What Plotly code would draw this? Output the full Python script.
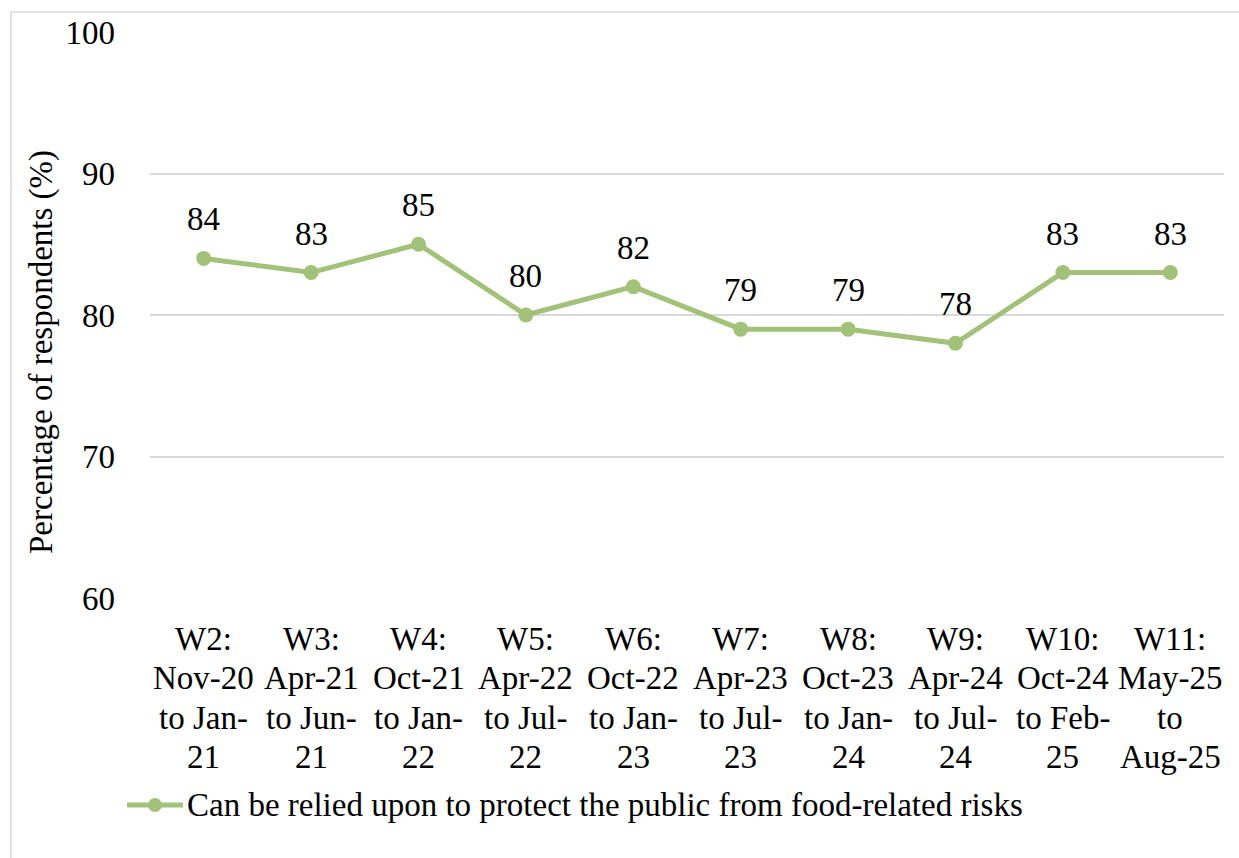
import plotly.graph_objects as go

# Survey waves (x-axis categories) and share of respondents agreeing (%)
waves = [
    "W2:<br>Nov-20<br>to Jan-<br>21",
    "W3:<br>Apr-21<br>to Jun-<br>21",
    "W4:<br>Oct-21<br>to Jan-<br>22",
    "W5:<br>Apr-22<br>to Jul-<br>22",
    "W6:<br>Oct-22<br>to Jan-<br>23",
    "W7:<br>Apr-23<br>to Jul-<br>23",
    "W8:<br>Oct-23<br>to Jan-<br>24",
    "W9:<br>Apr-24<br>to Jul-<br>24",
    "W10:<br>Oct-24<br>to Feb-<br>25",
    "W11:<br>May-25<br>to<br>Aug-25",
]
relied_upon = [84, 83, 85, 80, 82, 79, 79, 78, 83, 83]
series_name = "Can be relied upon to protect the public from food-related risks"
y_ticks = [60, 70, 80, 90, 100]

FONT = "Liberation Serif"
FS = 33
GREEN = "#A2C179"
GRID = "#D9D9D9"

W, H = 1239, 858
ML, MR, MT, MB = 150, 15, 32, 260
plot_w = W - ML - MR
plot_h = H - MT - MB


def px_x(px):
    return (px - ML) / plot_w


def px_y(py):
    return (H - MB - py) / plot_h


fig = go.Figure()
fig.add_trace(go.Scatter(
    x=list(range(len(waves))),
    y=relied_upon,
    mode="lines+markers",
    name=series_name,
    line=dict(color=GREEN, width=5),
    marker=dict(color=GREEN, size=15),
    showlegend=False,
))

# value labels above each point
for i, v in enumerate(relied_upon):
    fig.add_annotation(
        x=i, y=v, text=str(v), showarrow=False, yshift=39,
        font=dict(family=FONT, size=FS, color="#000000"),
    )

# category labels, one line at a time for tighter line spacing
line_centres = [639, 678, 718, 757]
for i, label in enumerate(waves):
    for j, part in enumerate(label.split("<br>")):
        fig.add_annotation(
            x=i, xref="x", yref="paper", y=px_y(line_centres[j]),
            text=part, showarrow=False, xanchor="center", yanchor="middle",
            font=dict(family=FONT, size=FS, color="#000000"),
        )

# y-axis title
fig.add_annotation(
    xref="paper", yref="paper",
    x=px_x(41), y=px_y(352),
    text="Percentage of respondents (%)", textangle=-90, showarrow=False,
    font=dict(family=FONT, size=FS, color="#000000"),
    xanchor="center", yanchor="middle",
)

# legend key: line sample with marker, then series name
leg_y = px_y(805)
fig.add_shape(
    type="line", xref="paper", yref="paper",
    x0=px_x(127), x1=px_x(183), y0=leg_y, y1=leg_y,
    line=dict(color=GREEN, width=5),
)
fig.add_shape(
    type="circle", xref="paper", yref="paper",
    x0=px_x(148), x1=px_x(162), y0=px_y(812), y1=px_y(798),
    line=dict(color=GREEN, width=0), fillcolor=GREEN,
)
fig.add_annotation(
    xref="paper", yref="paper", x=px_x(185), y=leg_y,
    text=series_name, showarrow=False, xanchor="left", yanchor="middle",
    font=dict(family=FONT, size=FS, color="#000000"),
)

# outer chart border
fig.add_shape(
    type="rect", xref="paper", yref="paper",
    x0=px_x(11), x1=px_x(W + 20),
    y0=px_y(H + 20), y1=px_y(12),
    line=dict(color=GRID, width=1.5), fillcolor="rgba(0,0,0,0)",
    layer="below",
)

fig.update_layout(
    width=W, height=H,
    margin=dict(l=ML, r=MR, t=MT, b=MB),
    paper_bgcolor="white", plot_bgcolor="white",
    font=dict(family=FONT, size=FS, color="#000000"),
    showlegend=False,
    xaxis=dict(
        range=[-0.5, len(waves) - 0.5],
        tickmode="array", tickvals=list(range(len(waves))),
        showticklabels=False,
        showgrid=False, zeroline=False, showline=False, ticks="",
    ),
    yaxis=dict(
        range=[60, 100], tickmode="array", tickvals=y_ticks,
        showgrid=True, gridcolor=GRID, gridwidth=1.5,
        zeroline=False, showline=False, ticks="", ticklabelstandoff=34,
        tickfont=dict(family=FONT, size=FS),
    ),
)

fig.write_html("out.html")
